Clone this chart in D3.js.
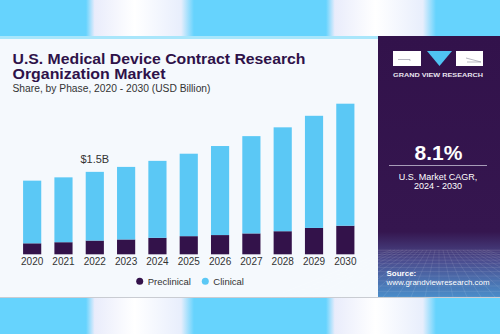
<!DOCTYPE html>
<html>
<head>
<meta charset="utf-8">
<style>
    body { margin: 0; background: #66d3fd; }
    svg { display: block; font-family: 'Liberation Sans', Arial, sans-serif; }
    .x .domain, .x .tick line { display: none; }
    .x .tick text { font-size: 10px; fill: #333; }
</style>
</head>
<body>
<svg width="500" height="334"></svg>
<script src="https://d3js.org/d3.v7.min.js"></script>
<script>
// data (USD billion)
let years = ["2020", "2021", "2022", "2023", "2024", "2025", "2026", "2027", "2028", "2029", "2030"];
let preclinical = [0.20, 0.22, 0.25, 0.27, 0.30, 0.33, 0.35, 0.38, 0.42, 0.48, 0.52];
let clinical = [1.14, 1.18, 1.25, 1.32, 1.40, 1.50, 1.62, 1.77, 1.89, 2.04, 2.22];
let seriesNames = ["Preclinical", "Clinical"];
let colors = ["#33124a", "#5bc8f5"];

let svg = d3.select("svg");
let defs = svg.append("defs");

// background stripes
let glow = defs.append("linearGradient").attr("id", "glow");
glow.append("stop").attr("offset", "0%").attr("stop-color", "#66d3fd");
glow.append("stop").attr("offset", "8%").attr("stop-color", "#e9ecfb");
glow.append("stop").attr("offset", "45%").attr("stop-color", "#ffffff");
glow.append("stop").attr("offset", "88%").attr("stop-color", "#e8eefc");
glow.append("stop").attr("offset", "100%").attr("stop-color", "#66d3fd");
[[86, 108], [326, 110]].forEach(function (s) {
    svg.append("rect").attr("x", s[0]).attr("y", 0).attr("width", s[1]).attr("height", 334)
        .style("fill", "url(#glow)");
});

// card
svg.append("rect").attr("x", 0).attr("y", 36).attr("width", 500).attr("height", 262)
    .style("fill", "#a9e6fb");
svg.append("rect").attr("x", 0).attr("y", 39).attr("width", 378).attr("height", 258)
    .style("fill", "#f5f9fd");
svg.append("line").attr("x1", 0).attr("x2", 500).attr("y1", 297.5).attr("y2", 297.5)
    .style("stroke", "#c9ccd2").style("stroke-width", 1);

// side panel
let pg = defs.append("linearGradient").attr("id", "panel").attr("x1", 0).attr("x2", 0).attr("y1", 0).attr("y2", 1);
pg.append("stop").attr("offset", "0%").attr("stop-color", "#32124b");
pg.append("stop").attr("offset", "75%").attr("stop-color", "#35164f");
pg.append("stop").attr("offset", "86%").attr("stop-color", "#4b4c8e");
pg.append("stop").attr("offset", "100%").attr("stop-color", "#4a8dc9");
svg.append("rect").attr("x", 378).attr("y", 36).attr("width", 122).attr("height", 261)
    .style("fill", "url(#panel)");

// perspective grid at the bottom of the panel
let grid = svg.append("g").style("stroke", "#ffffff").style("stroke-opacity", 0.13).style("stroke-width", 0.7);
d3.range(0, 14).forEach(function (i) {
    let y = 250 + Math.pow(i / 13, 1.6) * 47;
    grid.append("line").attr("x1", 378).attr("x2", 500).attr("y1", y).attr("y2", y);
});
d3.range(-12, 13).forEach(function (i) {
    grid.append("line").attr("x1", 439 + i * 4).attr("y1", 250).attr("x2", 439 + i * 14).attr("y2", 297);
});

// logo
svg.append("rect").attr("x", 393).attr("y", 51).attr("width", 28).attr("height", 15).style("fill", "#fff");
svg.append("path").attr("d", "M427,51 L452,51 L439.5,66 Z").style("fill", "#4fc3f2");
svg.append("rect").attr("x", 456).attr("y", 51).attr("width", 27).attr("height", 15).style("fill", "#fff");
svg.append("path").attr("d", "M398,59.5 L410,59.5 L410,61").style("stroke", "#8a8a9a").style("stroke-width", 0.6).style("fill", "none");
svg.append("path").attr("d", "M466,58 L481,62 L467,62").style("stroke", "#8a8a9a").style("stroke-width", 0.6).style("fill", "none");
svg.append("text").attr("x", 438).attr("y", 76.5).attr("text-anchor", "middle")
    .attr("textLength", 90).attr("lengthAdjust", "spacingAndGlyphs")
    .style("font-size", "5.6px").style("font-weight", "bold").style("fill", "#e8e4ef")
    .text("GRAND VIEW RESEARCH");

// CAGR block
svg.append("text").attr("x", 438.5).attr("y", 160).attr("text-anchor", "middle")
    .style("font-size", "21px").style("font-weight", "bold").style("fill", "#fff").text("8.1%");
svg.append("line").attr("x1", 389).attr("x2", 487).attr("y1", 165.5).attr("y2", 165.5)
    .style("stroke", "#a79cb8").style("stroke-width", 1);
svg.append("text").attr("x", 438).attr("y", 179.5).attr("text-anchor", "middle")
    .style("font-size", "9px").style("fill", "#fff").text("U.S. Market CAGR,");
svg.append("text").attr("x", 438).attr("y", 189).attr("text-anchor", "middle")
    .style("font-size", "9px").style("fill", "#fff").text("2024 - 2030");

// source
svg.append("text").attr("x", 386.5).attr("y", 275.5)
    .style("font-size", "8px").style("font-weight", "bold").style("fill", "#fff").text("Source:");
svg.append("text").attr("x", 386.5).attr("y", 285)
    .attr("textLength", 103).attr("lengthAdjust", "spacingAndGlyphs")
    .style("font-size", "8px").style("fill", "#fff").text("www.grandviewresearch.com");

// titles
svg.append("text").attr("x", 12.5).attr("y", 63.5)
    .attr("textLength", 293).attr("lengthAdjust", "spacingAndGlyphs")
    .style("font-size", "14px").style("font-weight", "bold").style("fill", "#2e1249")
    .text("U.S. Medical Device Contract Research");
svg.append("text").attr("x", 12.5).attr("y", 78.5)
    .attr("textLength", 153).attr("lengthAdjust", "spacingAndGlyphs")
    .style("font-size", "14px").style("font-weight", "bold").style("fill", "#2e1249")
    .text("Organization Market");
svg.append("text").attr("x", 12.5).attr("y", 92)
    .attr("textLength", 198).attr("lengthAdjust", "spacingAndGlyphs")
    .style("font-size", "10px").style("fill", "#333")
    .text("Share, by Phase, 2020 - 2030 (USD Billion)");

// chart
let rows = years.map(function (y, i) { return { year: y, Preclinical: preclinical[i], Clinical: clinical[i] }; });
let stacked = d3.stack().keys(seriesNames)(rows);

let x = d3.scaleBand().domain(years).range([16.5, 361]).paddingInner(0.42).paddingOuter(0.21);
let y = d3.scaleLinear().domain([0, 2.74]).range([254.3, 103.7]);

svg.append("g").selectAll("g").data(stacked).join("g")
    .style("fill", function (d, i) { return colors[i]; })
    .selectAll("rect").data(function (d) { return d; }).join("rect")
    .attr("x", function (d) { return x(d.data.year); })
    .attr("width", x.bandwidth())
    .attr("y", function (d) { return y(d[1]); })
    .attr("height", function (d) { return y(d[0]) - y(d[1]); });

svg.append("g").attr("class", "x axis")
    .attr("transform", "translate(0,254.3)")
    .call(d3.axisBottom(x).tickSize(0).tickPadding(4));

// value label on 2022
let i22 = years.indexOf("2022");
svg.append("text")
    .attr("x", x("2022") + x.bandwidth() / 2)
    .attr("y", y(preclinical[i22] + clinical[i22]) - 9)
    .attr("text-anchor", "middle")
    .style("font-size", "11px").style("fill", "#333")
    .text("$1.5B");

// legend
let legendX = [139.7, 205.3];
seriesNames.forEach(function (name, i) {
    svg.append("circle").attr("cx", legendX[i]).attr("cy", 281.3).attr("r", 3.5).style("fill", colors[i]);
    svg.append("text").attr("x", legendX[i] + 8).attr("y", 284.8)
        .style("font-size", "9.5px").style("fill", "#333").text(name);
});
</script>
</body>
</html>
